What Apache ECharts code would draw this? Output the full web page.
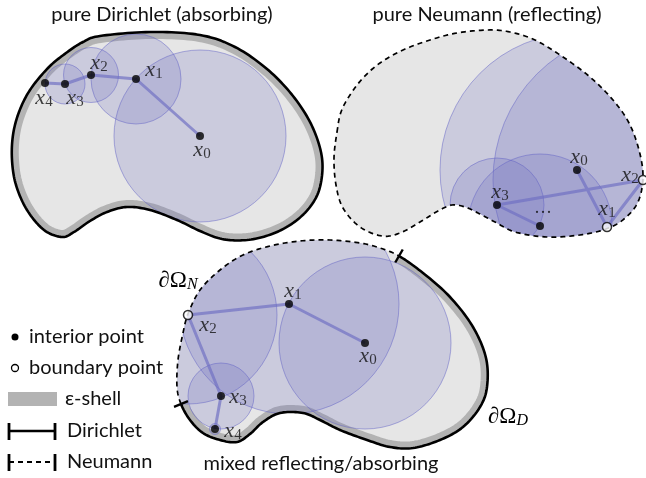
<!DOCTYPE html>
<html><head><meta charset="utf-8">
<script src="https://cdn.jsdelivr.net/npm/echarts@6/dist/echarts.min.js"></script>
<style>html,body{margin:0;padding:0;background:#fff}#c{width:646px;height:478px}</style>
</head><body><div id="c"></div>
<script>
// ---------------- data (in plot units) ----------------
const dirichletOutline = [[100,36],[150,32],[200,35],[235,47],[267,69],[293,96],[312,126],[322,158],[320,187],[310,207],[293,223],[272,234],[247,240],[222,239],[200,231],[177,220],[150,210],[127,207],[107,212],[90,221],[74,232],[62,237],[44,230],[27,210],[16,185],[12,160],[13,135],[19,112],[30,90],[48,68],[66,53],[83,42]];
const neumannOutline = [[337,132],[341,112],[350,95],[363,78],[380,63],[403,50],[430,40],[457,33],[488,30],[510,32],[535,40],[563,57],[590,77],[613,100],[629,123],[639,150],[643,177],[638,202],[624,219],[606,229],[580,235],[547,237],[515,232],[495,222],[478,213],[465,207],[452,205],[438,211],[420,222],[400,233],[382,236],[360,227],[343,208],[336,185],[334,158]];
// mixed outline starts at the upper Dirichlet/Neumann junction, Dirichlet part first
const mixedOutline = [[399,256],[423,273],[450,297],[473,327],[486,358],[487,387],[480,407],[463,427],[440,440],[413,448],[390,447],[367,440],[340,430],[320,420],[303,413],[280,413],[263,422],[250,434],[237,442],[220,440],[203,433],[190,420],[181,404],[177,387],[178,360],[183,333],[188,314],[200,290],[220,270],[243,255],[270,246],[300,241],[330,240],[360,243],[380,248]];
const mixedJunction = 22; // index of lower junction

const dirichletPoints = [[200,136],[136,79],[91,75],[65,84],[45,83]];
const dirichletRadii = [86,45,27.5,20,0];
const dirichletKinds = ['interior','interior','interior','interior','interior'];
const dirichletSubs = ['0','1','2','3','4'];

const neumannPoints = [[577,170],[607,227],[643,180],[497,205],[540,226]];
const neumannRadii = [137,0,150,47,72];
const neumannKinds = ['interior','boundary','boundary','interior','interior'];
const neumannSubs = ['0','1','2','3','…'];

const mixedPoints = [[365,343],[289,304],[188,315],[221,396],[215,429]];
const mixedRadii = [86,110,89,33,5.5];
const mixedKinds = ['interior','interior','boundary','interior','interior'];
const mixedSubs = ['0','1','2','3','4'];

const titles = ['pure Dirichlet (absorbing)','pure Neumann (reflecting)','mixed reflecting/absorbing'];
const legendLabels = ['interior point','boundary point','ε-shell','Dirichlet','Neumann'];

// ---------------- layout / style ----------------
const W = 646, H = 478;
const dirichletLabelOffsets = [[2,14],[18,-9],[8,-12],[10,14],[-1,15]];
const neumannLabelOffsets = [[2,-13],[0,-18],[-13,-5],[3,-13],[3,-13]];
const mixedLabelOffsets = [[3,13],[4,-13],[20,10],[17,1],[18,2]];

const FILL = '#e6e6e6', SHELL = '#b3b3b3';
const CIRCLE_FILL = 'rgba(105,105,190,0.21)', CIRCLE_STROKE = 'rgba(100,100,200,0.5)';
const SEG = 'rgba(110,110,195,0.68)';
const SANS = 'Lato', SERIF = 'Liberation Serif';
const TXT = '20px ' + SANS;

const blobs = [
  {outline: dirichletOutline, points: dirichletPoints, radii: dirichletRadii, kinds: dirichletKinds, subs: dirichletSubs, offs: dirichletLabelOffsets, mode: 'D'},
  {outline: neumannOutline, points: neumannPoints, radii: neumannRadii, kinds: neumannKinds, subs: neumannSubs, offs: neumannLabelOffsets, mode: 'N'},
  {outline: mixedOutline, points: mixedPoints, radii: mixedRadii, kinds: mixedKinds, subs: mixedSubs, offs: mixedLabelOffsets, mode: 'M', junction: mixedJunction}
];
const NS = 12;

function catmull(pts, n) {
  const out = [], N = pts.length;
  for (let i = 0; i < N; i++) {
    const p0 = pts[(i - 1 + N) % N], p1 = pts[i], p2 = pts[(i + 1) % N], p3 = pts[(i + 2) % N];
    for (let k = 0; k < n; k++) {
      const t = k / n, t2 = t * t, t3 = t2 * t;
      out.push([0, 1].map(d => 0.5 * (2 * p1[d] + (-p0[d] + p2[d]) * t + (2 * p0[d] - 5 * p1[d] + 4 * p2[d] - p3[d]) * t2 + (-p0[d] + 3 * p1[d] - 3 * p2[d] + p3[d]) * t3)));
    }
  }
  return out;
}
function sampled(api, b) { return catmull(b.outline.map(p => api.coord(p)), NS); }

function renderDomain(params, api) {
  const b = blobs[params.dataIndex];
  const poly = sampled(api, b);
  const inner = [];
  if (b.mode === 'D') inner.push({type: 'polygon', shape: {points: poly}, style: {fill: 'none', stroke: SHELL, lineWidth: 14}});
  if (b.mode === 'M') inner.push({type: 'polyline', shape: {points: poly.slice(0, b.junction * NS + 1)}, style: {fill: 'none', stroke: SHELL, lineWidth: 14}});
  b.points.forEach((p, i) => {
    const r = b.radii[i]; if (!r) return;
    const c = api.coord(p), rp = api.size([r, 0])[0];
    inner.push({type: 'circle', shape: {cx: c[0], cy: c[1], r: rp}, style: {fill: CIRCLE_FILL, stroke: CIRCLE_STROKE, lineWidth: 1}});
  });
  return {type: 'group', children: [
    {type: 'polygon', shape: {points: poly}, style: {fill: FILL}},
    {type: 'group', children: inner, clipPath: {type: 'polygon', shape: {points: poly}}}
  ]};
}
function renderSegments(params, api) {
  const b = blobs[params.dataIndex];
  return {type: 'polyline', shape: {points: b.points.map(p => api.coord(p))}, style: {fill: 'none', stroke: SEG, lineWidth: 3, lineJoin: 'round'}};
}
function tick(poly, idx, len) {
  const n = poly.length, a = poly[(idx - 1 + n) % n], c = poly[(idx + 1) % n], p = poly[idx % n];
  let tx = c[0] - a[0], ty = c[1] - a[1]; const l = Math.hypot(tx, ty); tx /= l; ty /= l;
  const nx = -ty, ny = tx;
  return {type: 'line', shape: {x1: p[0] - nx * len, y1: p[1] - ny * len, x2: p[0] + nx * len, y2: p[1] + ny * len}, style: {stroke: '#000', lineWidth: 2.4}};
}
function renderBoundary(params, api) {
  const b = blobs[params.dataIndex];
  const poly = sampled(api, b);
  const solid = {fill: 'none', stroke: '#000', lineWidth: 2.6, lineJoin: 'round'};
  const dashed = {fill: 'none', stroke: '#000', lineWidth: 1.7, lineDash: [5, 4]};
  if (b.mode === 'D') return {type: 'polygon', shape: {points: poly}, style: solid};
  if (b.mode === 'N') return {type: 'polygon', shape: {points: poly}, style: dashed};
  const j = b.junction * NS;
  return {type: 'group', children: [
    {type: 'polyline', shape: {points: poly.slice(0, j + 1)}, style: solid},
    {type: 'polyline', shape: {points: poly.slice(j).concat([poly[0]])}, style: dashed},
    tick(poly, 0, 7.5), tick(poly, j, 7.5)
  ]};
}

function pointData(kind) {
  const out = [];
  blobs.forEach(b => b.points.forEach((p, i) => {
    if (b.kinds[i] !== kind) return;
    out.push({value: p, sub: b.subs[i], label: {offset: b.offs[i]}});
  }));
  return out;
}
const mathRich = {
  v: {fontFamily: SERIF, fontStyle: 'italic', fontSize: 22, lineHeight: 24, color: '#111', verticalAlign: 'middle'},
  s: {fontFamily: SERIF, fontSize: 15, lineHeight: 12, color: '#111', verticalAlign: 'bottom'},
  d: {fontFamily: SERIF, fontSize: 18, color: '#111'}
};
const pointLabel = {
  show: true, position: 'inside',
  formatter: p => p.data.sub === '…' ? '{d|···}' : '{v|x}{s|' + p.data.sub + '}',
  rich: mathRich
};

const chart = echarts.init(document.getElementById('c'), null, {renderer: 'canvas'});
const domainData = blobs.map((b, i) => [i, 0]);

const textEl = (x, y, text, font, align) => ({type: 'text', x, y, silent: true, style: {text, font, fill: '#111', align: align || 'center', textAlign: align || 'center', verticalAlign: 'middle', textVerticalAlign: 'middle'}});
const richEl = (x, y, text) => ({type: 'text', x, y, silent: true, style: {text, align: 'center', textAlign: 'center', verticalAlign: 'middle', textVerticalAlign: 'middle', rich: {
  o: {fontFamily: SERIF, fontSize: 23, lineHeight: 24, color: '#111', verticalAlign: 'middle'},
  s: {fontFamily: SERIF, fontStyle: 'italic', fontSize: 16, lineHeight: 12, color: '#111', verticalAlign: 'bottom'}}}});

chart.setOption({
  animation: false,
  grid: {left: 0, right: 0, top: 0, bottom: 0},
  xAxis: {type: 'value', min: 0, max: W, show: false},
  yAxis: {type: 'value', min: 0, max: H, inverse: true, show: false},
  series: [
    {type: 'custom', silent: true, data: domainData, renderItem: renderDomain, z: 1},
    {type: 'custom', silent: true, data: domainData, renderItem: renderSegments, z: 2},
    {type: 'custom', silent: true, data: domainData, renderItem: renderBoundary, z: 3},
    {type: 'scatter', silent: true, z: 4, symbol: 'circle', symbolSize: 8, itemStyle: {color: '#000'}, data: pointData('interior'), label: pointLabel},
    {type: 'scatter', silent: true, z: 5, symbol: 'circle', symbolSize: 9, itemStyle: {color: '#fff', borderColor: '#000', borderWidth: 1.5}, data: pointData('boundary'), label: pointLabel}
  ],
  graphic: [
    textEl(162, 15, titles[0], TXT),
    textEl(487, 15, titles[1], TXT),
    textEl(321, 464, titles[2], TXT),
    textEl(256, 216, 'Ω', '22px ' + SERIF),
    textEl(363, 163, 'Ω', '22px ' + SERIF),
    textEl(421, 422, 'Ω', '22px ' + SERIF),
    richEl(178, 281, '{o|∂Ω}{s|N}'),
    richEl(508, 417, '{o|∂Ω}{s|D}'),
    // legend
    {type: 'circle', shape: {cx: 15, cy: 337, r: 3.5}, style: {fill: '#000'}},
    textEl(29, 337, legendLabels[0], TXT, 'left'),
    {type: 'circle', shape: {cx: 15, cy: 368, r: 3.5}, style: {fill: '#fff', stroke: '#000', lineWidth: 1.3}},
    textEl(29, 368, legendLabels[1], TXT, 'left'),
    {type: 'rect', shape: {x: 8, y: 392, width: 49, height: 14}, style: {fill: SHELL}},
    textEl(65, 399, legendLabels[2], TXT, 'left'),
    {type: 'line', shape: {x1: 9, y1: 431, x2: 55, y2: 431}, style: {stroke: '#000', lineWidth: 2.4}},
    {type: 'line', shape: {x1: 9, y1: 423, x2: 9, y2: 440}, style: {stroke: '#000', lineWidth: 2.8}},
    {type: 'line', shape: {x1: 55, y1: 423, x2: 55, y2: 440}, style: {stroke: '#000', lineWidth: 2.8}},
    textEl(67, 431, legendLabels[3], TXT, 'left'),
    {type: 'line', shape: {x1: 9, y1: 462, x2: 55, y2: 462}, style: {stroke: '#000', lineWidth: 1.8, lineDash: [5, 4]}},
    {type: 'line', shape: {x1: 9, y1: 454, x2: 9, y2: 471}, style: {stroke: '#000', lineWidth: 2.8}},
    {type: 'line', shape: {x1: 55, y1: 454, x2: 55, y2: 471}, style: {stroke: '#000', lineWidth: 2.8}},
    textEl(67, 462, legendLabels[4], TXT, 'left')
  ]
});
</script></body></html>
